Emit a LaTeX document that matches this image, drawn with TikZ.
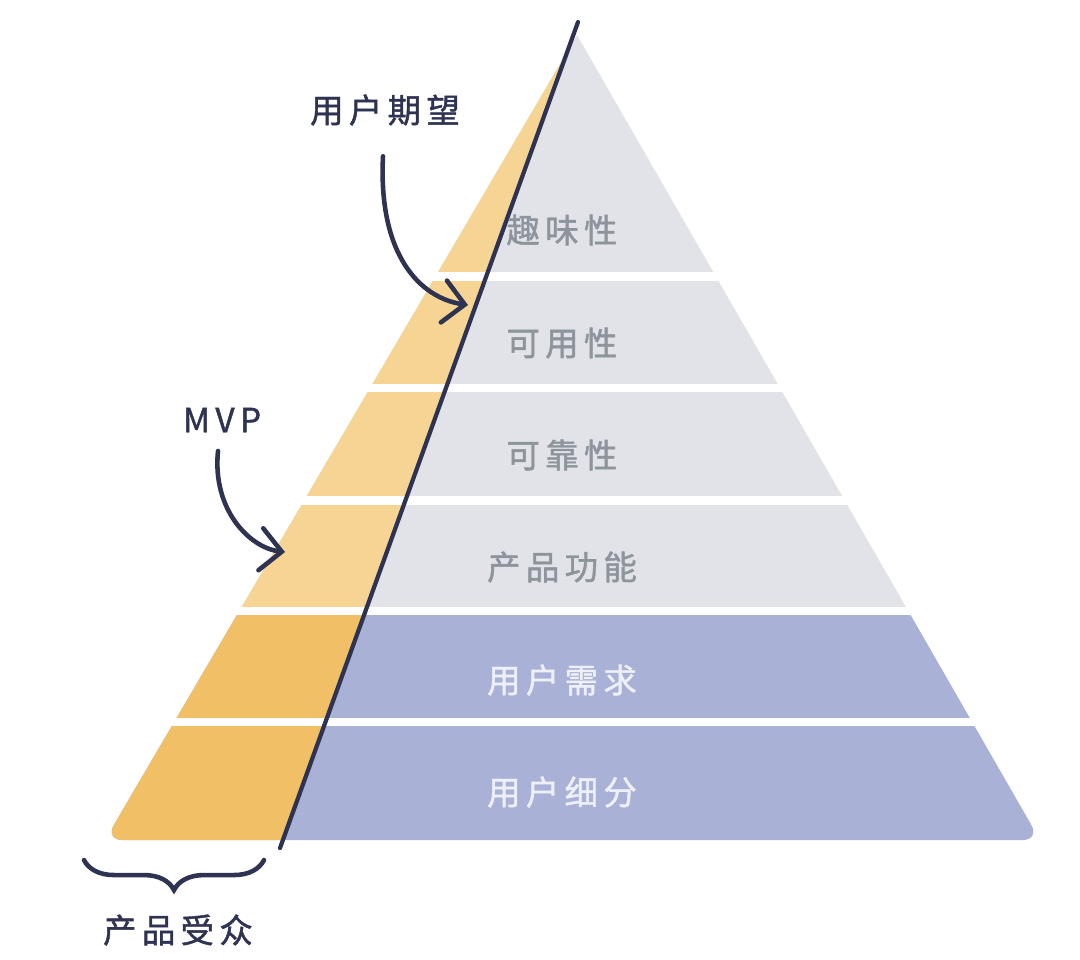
\documentclass[tikz,border=0pt]{standalone}
\usepackage{fontspec}
\newfontfamily\cjk[LetterSpace=16, FakeBold=1.3]{Noto Sans CJK SC}
\usepackage{tikz}
\usetikzlibrary{arrows.meta, decorations.pathreplacing, calc}
\definecolor{navy}{HTML}{2F3352}
\definecolor{bandgray}{HTML}{E1E3E8}
\definecolor{bandblue}{HTML}{A9B1D6}
\definecolor{yellowlight}{HTML}{F6D594}
\definecolor{yellowdark}{HTML}{F0BF66}
\definecolor{labelgray}{HTML}{8E949B}
\definecolor{labelwhite}{HTML}{EEF0F8}
\tikzset{
	bandlabel/.style={
			font=\cjk\fontsize{9.5}{11}\selectfont,
			text=labelgray,
			inner sep=0pt
		},
	bandlabellight/.style={
			bandlabel,
			text=labelwhite
		},
	notelabel/.style={
			font=\cjk\fontsize{9.5}{11}\selectfont,
			text=navy,
			inner sep=0pt
		},
	splitline/.style={
			draw=navy,
			line width=1.2pt,
			line cap=round
		},
	notearrow/.style={
			draw=navy,
			line width=1.3pt,
			line cap=round,
			-{Straight Barb[length=6pt,width=12pt,line cap=round]}
		},
	audiencebrace/.style={
			draw=navy,
			line width=1.3pt,
			line cap=round,
			decorate,
			decoration={brace, amplitude=0.3cm}
		}
}

\begin{document}
\begin{tikzpicture}[x=0.01cm, y=-0.01cm]
\useasboundingbox (0,0) rectangle (1080,959);

\coordinate (apex) at (577,35);
\coordinate (baseL) at (105,840);
\coordinate (baseR) at (1040,840);
\coordinate (lineTop) at (578,22);
\coordinate (lineBot) at (280,848);

\begin{scope}
\clip (apex) [rounded corners=5] -- (baseR) -- (baseL) [sharp corners] -- cycle;
\fill[bandgray] (0,0) rectangle (1080,272);
\fill[bandgray] (0,281) rectangle (1080,384);
\fill[bandgray] (0,392) rectangle (1080,496);
\fill[bandgray] (0,505) rectangle (1080,607);
\fill[bandblue] (0,615) rectangle (1080,718);
\fill[bandblue] (0,726) rectangle (1080,850);
\clip (lineTop) -- (lineBot) -- (0,848) -- (0,0) -- cycle;
\fill[yellowlight] (0,0) rectangle (1080,272);
\fill[yellowlight] (0,281) rectangle (1080,384);
\fill[yellowlight] (0,392) rectangle (1080,496);
\fill[yellowlight] (0,505) rectangle (1080,607);
\fill[yellowdark] (0,615) rectangle (1080,718);
\fill[yellowdark] (0,726) rectangle (1080,850);
\end{scope}

\draw[splitline] (lineTop) -- (lineBot);

\node[bandlabel] (tFun) at (562,230) {趣味性};
\node[bandlabel] (tUse) at (562,343) {可用性};
\node[bandlabel] (tRel) at (562,455) {可靠性};
\node[bandlabel] (tFeat) at (562,567) {产品功能};
\node[bandlabellight] (tNeed) at (562,680) {用户需求};
\node[bandlabellight] (tSeg) at (562,792) {用户细分};

\node[notelabel] (tExpect) at (385,110) {用户期望};
\node[notelabel] (tMvp) at (222,420) {MVP};
\node[notelabel] (tAudience) at (178,930) {产品受众};

\coordinate (pExpect) at (468,305);
\coordinate (pMvp) at (285,552);
\draw[notearrow] ($(tExpect.south)+(-2,30)$) .. controls (378,255) and (420,298) .. (pExpect);
\draw[notearrow] ($(tMvp.south)+(-4,18)$) .. controls (212,510) and (250,548) .. (pMvp);

\coordinate (braceL) at (84,860);
\coordinate (braceR) at (264,860);
\draw[audiencebrace] (braceR) -- (braceL);

\end{tikzpicture}
\end{document}
